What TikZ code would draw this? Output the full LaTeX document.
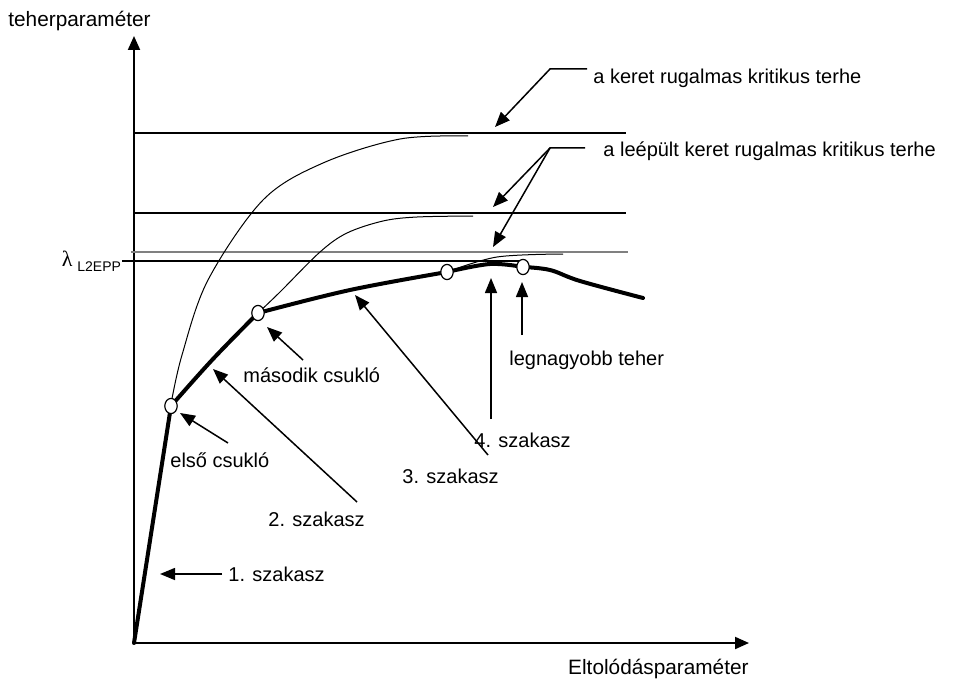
\documentclass[tikz,border=0pt]{standalone}
\usepackage{fontspec}
\setmainfont{Liberation Sans}
\newfontfamily\greekserif{Liberation Serif}
\usetikzlibrary{arrows.meta,shapes.geometric}
\begin{document}
\begin{tikzpicture}[x=0.5pt,y=-0.5pt,
  axis/.style={line width=1pt,-{Triangle[length=7pt,width=6pt]}},
  loadpath/.style={line width=2pt,line join=round,line cap=round},
  elastic/.style={line width=0.5pt},
  level/.style={line width=0.6pt},
  leader/.style={line width=0.75pt,-{Triangle[length=7.5pt,width=6pt]}},
  lbl/.style={font=\fontsize{10}{12}\selectfont,inner sep=0pt},
  axlbl/.style={font=\fontsize{10.4}{12}\selectfont,inner sep=0pt},
  hinge/.style={ellipse,draw,line width=0.6pt,fill=white,minimum width=6.2pt,minimum height=7.6pt,inner sep=0pt}]
\useasboundingbox (0,0) rectangle (956,684);

% axes
\coordinate (O) at (134,643);
\coordinate (ytop) at (134,36);
\coordinate (xend) at (749,643);
\draw[axis] (O) -- (ytop);
\draw[axis] (O) -- (xend);
\node[axlbl,anchor=base west] (ylab) at (8,27) {teherparaméter};
\node[axlbl,anchor=base east] (xlab) at (749,674) {Eltolódásparaméter};

% critical load levels
\draw[level] (134,133) -- (626,133);
\draw[level] (134,213) -- (626,213);
\draw[level,gray] (131,252) -- (628,252);
\draw[level] (122,261) -- (520,261);
\node[lbl,anchor=base east,font=\fontsize{11}{12}\greekserif] (lam) at (73,266) {λ};
\node[lbl,anchor=base west,font=\fontsize{7}{8}\selectfont] (lamsub) at (77,271) {L2EPP};

% elastic critical curves of the degraded frames
\draw[elastic] plot[smooth,tension=0.55] coordinates {(171,404) (182,355) (208,280) (263,200) (323,163) (400,139) (468,136)};
\draw[elastic] plot[smooth,tension=0.55] coordinates {(258,313) (280,292) (320,252) (347,233) (383,221) (417,217) (473,216)};
\draw[elastic] plot[smooth,tension=0.55] coordinates {(447,272) (497,257) (563,254)};

% load--displacement path, one piece per stage
\draw[loadpath] (O) -- (171,406);
\draw[loadpath] plot[smooth,tension=0.6] coordinates {(171,406) (213,359) (258,313)};
\draw[loadpath] plot[smooth,tension=0.6] coordinates {(258,313) (350,290) (447,272)};
\draw[loadpath] plot[smooth,tension=0.6] coordinates {(447,272) (490,264) (523,267)};
\draw[loadpath] plot[smooth,tension=0.6] coordinates {(523,267) (550,270) (580,281) (643,298)};

% plastic hinges
\node[hinge] (h1) at (171,406) {};
\node[hinge] (h2) at (258,313) {};
\node[hinge] (h3) at (447,272) {};
\node[hinge] (h4) at (523,267) {};

% annotations
\node[lbl,anchor=base west] (s1) at (228,581) {1. szakasz};
\coordinate (s1a) at (222,574); \coordinate (s1b) at (160,574);
\draw[leader] (s1a) -- (s1b);

\node[lbl,anchor=base west] (c1) at (170,467) {első csukló};
\coordinate (c1a) at (228,443); \coordinate (c1b) at (180,413);
\draw[leader] (c1a) -- (c1b);

\node[lbl,anchor=base west] (c2) at (243,382) {második csukló};
\coordinate (c2a) at (303,360); \coordinate (c2b) at (267,327);
\draw[leader] (c2a) -- (c2b);

\node[lbl,anchor=base west] (s2) at (268,526) {2. szakasz};
\coordinate (s2a) at (357,502); \coordinate (s2b) at (213,369);
\draw[leader] (s2a) -- (s2b);

\node[lbl,anchor=base west] (s3) at (402,483) {3. szakasz};
\coordinate (s3a) at (488,455); \coordinate (s3b) at (355,295);
\draw[leader] (s3a) -- (s3b);

\node[lbl,anchor=base west] (s4) at (474,447) {4. szakasz};
\coordinate (s4a) at (491,419); \coordinate (s4b) at (491,278);
\draw[leader] (s4a) -- (s4b);

\node[lbl,anchor=base west] (mx) at (509,365) {legnagyobb teher};
\coordinate (mxa) at (522,335); \coordinate (mxb) at (522,282);
\draw[leader] (mxa) -- (mxb);

\node[lbl,anchor=base west] (kr) at (593,84) {a keret rugalmas kritikus terhe};
\coordinate (kra) at (587,69); \coordinate (krk) at (550,69); \coordinate (krb) at (495,127);
\draw[leader] (kra) -- (krk) -- (krb);

\node[lbl,anchor=base west] (lk) at (603,157) {a leépült keret rugalmas kritikus terhe};
\coordinate (lka) at (585,148); \coordinate (lkk) at (550,148);
\coordinate (lkb) at (493,207); \coordinate (lkc) at (493,247);
\draw[leader] (lka) -- (lkk) -- (lkb);
\draw[leader] (lkk) -- (lkc);
\end{tikzpicture}
\end{document}
